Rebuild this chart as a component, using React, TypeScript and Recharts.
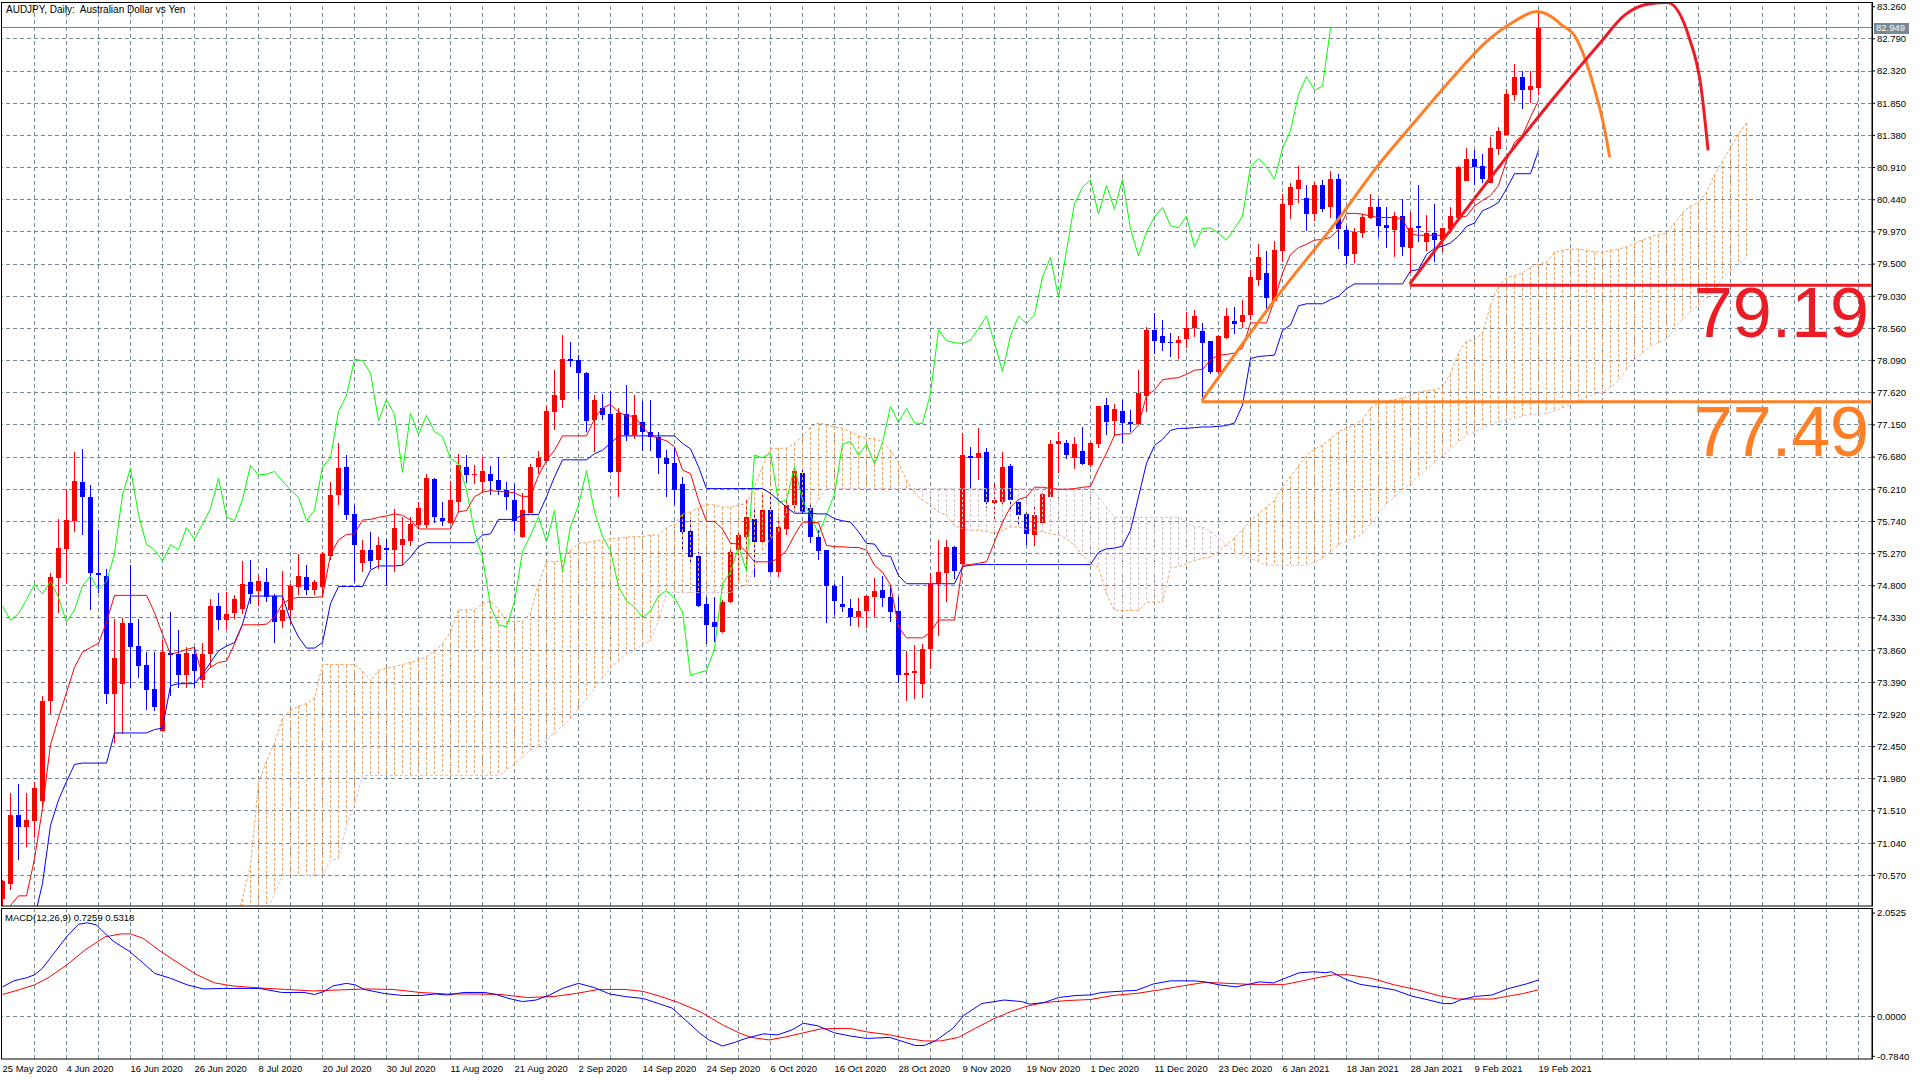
import React from 'react';
import { ComposedChart, Bar, Line, XAxis, YAxis, ReferenceLine } from 'recharts';

const FONT = "'Liberation Sans', Arial, sans-serif";
const GRID = '#778899';
const UP = '#ff0000';
const DOWN = '#0000ff';
const SANDY = '#f4a460';
const THISTLE = '#d8bfd8';
const ANN_RED = '#ed1c24';
const ANN_ORANGE = '#ff7f27';

const title = 'AUDJPY, Daily:  Australian Dollar vs Yen';
const macdTitle = 'MACD(12,26,9) 0.7259 0.5318';

const dateLabels = ['25 May 2020','4 Jun 2020','16 Jun 2020','26 Jun 2020','8 Jul 2020','20 Jul 2020','30 Jul 2020','11 Aug 2020','21 Aug 2020','2 Sep 2020','14 Sep 2020','24 Sep 2020','6 Oct 2020','16 Oct 2020','28 Oct 2020','9 Nov 2020','19 Nov 2020','1 Dec 2020','11 Dec 2020','23 Dec 2020','6 Jan 2021','18 Jan 2021','28 Jan 2021','9 Feb 2021','19 Feb 2021'];

const priceTicks = [83.26, 82.79, 82.32, 81.85, 81.38, 80.91, 80.44, 79.97, 79.5, 79.03, 78.56, 78.09, 77.62, 77.15, 76.68, 76.21, 75.74, 75.27, 74.8, 74.33, 73.86, 73.39, 72.92, 72.45, 71.98, 71.51, 71.04, 70.57];
const macdTicks = [2.0525, 0, -0.784];

const opens = [70.23,70.45,71.45,71.28,71.37,71.66,73.11,74.91,75.34,75.75,
76.31,76.10,74.98,74.95,73.22,73.37,74.26,73.92,73.64,73.29,
72.68,73.82,73.80,73.49,73.80,73.42,73.81,74.51,74.30,74.40,
74.46,74.85,74.72,74.86,74.65,74.28,74.44,74.78,74.93,74.74,
74.78,75.24,76.12,76.54,75.85,75.14,75.33,75.18,75.35,75.32,
75.39,75.45,75.69,75.69,76.36,75.79,75.72,76.03,76.54,76.42,
76.32,76.44,76.34,76.20,76.06,75.51,75.87,76.53,76.63,77.34,
77.51,78.11,78.10,77.91,77.22,77.40,77.31,76.46,77.31,77.01,
77.20,77.04,76.98,76.67,76.60,76.29,75.60,75.23,74.53,74.27,
74.12,74.56,75.32,75.52,75.78,75.44,75.90,75.00,75.63,75.98,
76.45,75.93,75.52,75.32,74.80,74.54,74.48,74.34,74.43,74.63,
74.74,74.64,74.43,73.49,73.52,73.37,73.87,74.83,74.99,75.37,
75.12,76.70,76.67,76.75,76.01,76.02,76.55,76.03,75.85,75.54,
75.72,76.10,76.87,76.88,76.67,76.77,76.56,76.87,77.44,77.21,
77.35,77.20,77.16,77.57,78.54,78.45,78.36,78.34,78.40,78.56,
78.52,78.37,77.93,78.42,78.67,78.65,78.76,79.27,79.37,78.96,
79.69,80.37,80.60,80.47,80.23,80.65,80.33,80.74,80.00,79.64,
79.96,80.17,80.33,80.07,80.00,80.20,79.73,80.05,79.82,79.95,
79.85,80.01,80.17,80.72,81.04,80.94,80.69,81.18,81.39,81.97,
82.24,82.04,82.07];
const highs = [70.50,71.78,71.91,71.78,71.93,73.19,74.98,75.77,76.21,76.75,
76.80,76.27,75.61,75.04,74.31,74.33,75.10,74.31,73.83,73.83,
74.01,74.42,74.16,73.90,73.91,73.97,74.60,74.70,74.71,74.67,
75.16,75.17,74.96,75.06,74.68,75.01,74.82,75.27,75.10,74.88,
75.30,76.31,76.89,76.71,75.98,75.47,75.59,75.51,75.48,75.92,
75.80,75.80,76.02,76.44,76.38,76.02,76.33,76.72,76.71,76.56,
76.67,76.55,76.68,76.31,76.29,76.15,76.58,76.77,77.42,77.95,
78.46,78.36,78.17,77.93,77.58,77.60,77.65,77.40,77.73,77.58,
77.50,77.51,77.04,76.78,76.82,76.39,75.77,75.30,74.63,74.63,
74.59,75.37,75.60,76.05,75.95,76.15,76.15,75.80,76.07,76.54,
76.49,75.99,75.61,75.33,74.82,74.95,74.61,74.62,74.66,74.92,
74.94,74.80,74.63,73.85,73.93,73.95,74.99,75.47,75.47,75.38,
77.03,76.83,77.10,76.82,76.30,76.76,76.58,76.04,75.86,75.99,
76.15,76.93,77.04,76.93,76.97,77.12,76.90,77.43,77.55,77.46,
77.51,77.37,77.95,78.58,78.78,78.69,78.50,78.45,78.80,78.83,
78.64,78.38,78.46,78.86,78.88,78.97,79.41,79.80,79.69,79.84,
80.52,80.69,80.93,80.65,80.70,80.73,80.86,80.81,80.06,80.02,
80.23,80.52,80.45,80.34,80.26,80.45,80.26,80.66,80.21,80.38,
80.03,80.33,80.93,81.19,81.17,81.11,81.36,81.50,82.06,82.43,
82.32,82.32,83.19];
const lows = [70.00,70.35,70.80,70.99,71.11,71.57,72.92,74.40,74.84,75.59,
75.54,74.45,74.70,73.08,72.51,72.64,73.30,73.46,72.98,72.97,
72.67,73.19,73.30,73.30,73.31,73.31,73.60,74.16,74.17,74.31,
74.39,74.54,74.50,74.56,73.97,74.18,74.24,74.67,74.67,74.67,
74.63,75.17,75.98,75.76,74.85,75.00,75.05,75.04,74.80,75.00,
75.10,75.38,75.63,75.65,75.72,75.67,75.70,75.88,76.30,76.28,
76.15,76.13,76.12,75.90,75.60,75.50,75.86,76.43,76.62,77.08,
77.40,78.00,77.53,77.05,76.76,77.22,76.45,76.10,76.92,76.94,
76.77,76.77,76.44,76.10,75.98,75.29,75.15,74.49,73.95,73.98,
74.11,74.55,74.88,75.02,74.93,75.43,74.99,74.93,75.54,75.88,
75.85,75.42,75.17,74.25,74.38,74.41,74.21,74.20,74.19,74.35,
74.49,74.27,73.38,73.12,73.14,73.16,73.59,74.07,74.56,74.90,
75.11,76.22,76.34,75.93,75.76,75.95,75.88,75.70,75.39,75.38,
75.71,76.09,76.45,76.65,76.50,76.57,76.54,76.82,77.01,76.99,
76.89,77.05,77.15,77.34,78.18,78.23,78.14,78.11,78.28,78.43,
77.51,77.90,77.90,78.41,78.48,78.56,78.69,79.18,78.83,78.95,
79.53,80.16,80.39,79.98,80.13,80.26,80.17,79.72,79.50,79.51,
79.88,80.16,79.89,79.74,79.61,79.62,79.37,79.82,79.69,79.53,
79.67,79.96,80.16,80.71,80.65,80.69,80.68,81.09,81.38,81.88,
81.76,81.85,81.97];
const closes = [70.48,71.45,71.27,71.38,71.85,73.12,74.93,75.35,75.76,76.33,
76.09,74.98,74.96,73.22,73.75,74.26,73.91,73.63,73.28,73.03,
73.83,73.79,73.50,73.82,73.55,73.80,74.50,74.30,74.39,74.60,
74.82,74.68,74.87,74.63,74.27,74.45,74.80,74.94,74.74,74.86,
75.27,76.13,76.52,75.84,75.40,75.33,75.16,75.40,75.33,75.65,
75.48,75.70,75.93,76.37,75.81,75.75,76.06,76.56,76.42,76.43,
76.47,76.33,76.20,76.09,75.75,75.90,76.54,76.67,77.35,77.58,
78.11,78.09,77.91,77.21,77.52,77.30,76.46,77.32,77.01,77.29,
77.05,76.98,76.66,76.58,76.20,75.59,75.22,74.50,74.23,74.20,
74.57,75.30,75.54,75.81,75.44,75.90,75.00,75.66,75.98,76.48,
75.88,75.52,75.31,74.79,74.58,74.49,74.34,74.43,74.65,74.73,
74.62,74.42,73.49,73.53,73.56,73.88,74.83,75.00,75.37,75.02,
76.71,76.67,76.74,76.02,76.05,76.54,76.05,75.83,75.55,75.84,
76.14,76.87,76.91,76.71,76.87,76.58,76.89,77.42,77.19,77.39,
77.18,77.17,77.61,78.54,78.38,78.35,78.34,78.39,78.56,78.74,
78.35,77.93,78.45,78.74,78.63,78.76,79.31,79.60,79.01,79.70,
80.38,80.62,80.73,80.23,80.65,80.30,80.74,80.01,79.62,79.97,
80.19,80.33,80.06,80.03,80.20,79.75,80.02,80.03,79.95,79.85,
80.02,80.20,80.92,81.04,80.92,80.74,81.19,81.45,81.98,82.24,
82.04,82.10,82.949];

const tenkan = [69.9,70.13,70.27,70.27,70.81,71.55,72.48,72.87,73.24,73.61,
73.83,73.90,73.96,74.27,74.66,74.66,74.66,74.66,74.66,74.41,
74.09,73.80,73.83,73.87,73.90,73.48,73.61,73.68,73.70,73.95,
74.23,74.23,74.23,74.24,74.34,74.54,74.61,74.63,74.63,74.63,
74.64,75.25,75.47,75.55,75.56,75.76,75.77,75.80,75.82,75.85,
75.83,75.76,75.63,75.63,75.63,75.63,75.63,75.88,75.90,76.10,
76.17,76.19,76.18,76.17,76.16,76.10,76.11,76.41,76.63,76.78,
76.99,76.99,76.99,76.99,77.24,77.40,77.45,77.34,77.28,77.28,
77.12,77.00,76.95,76.92,76.83,76.49,76.44,76.05,75.74,75.74,
75.63,75.42,75.41,75.29,75.15,75.15,75.15,75.20,75.32,75.54,
75.73,75.73,75.72,75.39,75.37,75.37,75.36,75.36,75.32,75.10,
75.00,74.81,74.20,74.04,74.04,74.04,74.12,74.30,74.30,74.30,
75.10,75.11,75.13,75.15,75.44,75.73,75.95,76.06,76.10,76.24,
76.24,76.22,76.21,76.21,76.22,76.24,76.25,76.51,76.74,77.00,
77.02,77.02,77.15,77.58,77.66,77.81,77.83,77.84,77.89,77.95,
77.96,78.10,78.17,78.18,78.20,78.27,78.64,78.64,78.64,78.98,
79.37,79.64,79.74,79.79,79.85,79.86,79.89,80.01,80.24,80.24,
80.23,80.20,80.18,80.18,80.18,80.16,79.94,79.92,79.92,79.92,
79.92,79.96,80.18,80.20,80.35,80.43,80.50,80.65,81.01,81.28,
81.38,81.65,81.89];
const kijun = [69.0,69.2,69.4,69.6,69.95,70.45,71.30,71.67,71.94,72.19,
72.21,72.21,72.21,72.21,72.65,72.65,72.65,72.65,72.65,72.70,
72.72,73.34,73.37,73.37,73.37,73.51,73.68,73.85,73.92,73.97,
74.24,74.65,74.65,74.65,74.65,74.65,74.29,74.05,73.89,73.89,
73.97,74.54,74.79,74.79,74.79,74.79,75.03,75.09,75.09,75.09,
75.10,75.22,75.37,75.43,75.43,75.43,75.43,75.43,75.43,75.43,
75.54,75.56,75.77,75.77,75.77,75.84,75.84,75.84,76.10,76.39,
76.64,76.64,76.64,76.64,76.73,76.78,76.88,76.99,76.99,76.99,
76.99,76.99,76.99,76.99,76.99,76.88,76.80,76.54,76.22,76.22,
76.22,76.22,76.22,76.22,76.22,76.22,76.15,76.05,75.95,75.86,
75.86,75.86,75.85,75.85,75.78,75.75,75.73,75.59,75.42,75.41,
75.24,75.23,74.95,74.83,74.83,74.83,74.83,74.83,74.83,74.83,
75.08,75.10,75.11,75.11,75.11,75.11,75.11,75.11,75.11,75.11,
75.11,75.11,75.11,75.11,75.11,75.11,75.11,75.29,75.34,75.35,
75.38,75.61,76.10,76.59,76.85,76.94,77.07,77.10,77.10,77.11,
77.12,77.12,77.13,77.14,77.18,77.44,78.12,78.15,78.16,78.17,
78.53,78.61,78.89,78.92,78.92,78.92,78.98,79.03,79.14,79.21,
79.21,79.21,79.21,79.21,79.21,79.21,79.40,79.42,79.64,79.73,
79.76,79.81,79.91,80.05,80.10,80.28,80.33,80.40,80.60,80.82,
80.82,80.82,81.16];

// Senkou spans, first value belongs to bar 26
const SPAN_START = 26;
const spanA = [68.8,69.2,69.5,69.9,
70.23,70.72,71.92,72.24,72.50,72.87,72.98,73.04,73.08,73.16,
73.65,73.65,73.65,73.65,73.65,73.56,73.41,73.56,73.60,73.62,
73.65,73.68,73.72,73.76,73.85,73.95,74.12,74.45,74.45,74.45,
74.54,74.58,74.45,74.28,74.28,74.28,74.40,74.83,75.15,75.15,
75.17,75.32,75.42,75.43,75.46,75.46,75.49,75.50,75.51,75.52,
75.52,75.54,75.54,75.65,75.70,75.85,75.88,75.93,75.99,75.98,
75.95,75.95,75.98,76.00,76.24,76.54,76.80,76.81,76.81,76.88,
76.98,77.12,77.18,77.15,77.12,77.10,77.05,76.99,76.95,76.95,
76.90,76.78,76.59,76.34,76.15,76.05,75.98,75.88,75.83,75.68,
75.63,75.61,75.61,75.59,75.57,75.61,75.66,75.66,75.62,75.61,
75.59,75.56,75.54,75.49,75.39,75.24,75.12,75.07,74.68,74.44,
74.44,74.44,74.44,74.56,74.56,74.56,75.07,75.08,75.12,75.17,
75.20,75.22,75.30,75.40,75.50,75.62,75.75,75.85,75.95,76.05,
76.25,76.40,76.55,76.70,76.80,76.85,76.95,77.05,77.10,77.15,
77.22,77.40,77.46,77.50,77.52,77.54,77.58,77.63,77.65,77.66,
77.70,77.90,78.20,78.37,78.40,78.49,78.90,79.18,79.30,79.33,
79.37,79.45,79.50,79.53,79.67,79.70,79.72,79.72,79.70,79.68,
79.67,79.70,79.72,79.75,79.80,79.85,79.90,79.93,79.95,80.10,
80.25,80.35,80.40,80.55,80.80,81.00,81.20,81.40,81.56];
const spanB = [68.5,68.6,68.8,69.0,
69.3,69.6,69.9,70.05,70.3,70.57,70.57,70.57,70.57,70.57,
70.57,70.79,70.81,71.30,71.60,72.03,72.03,72.03,72.03,72.03,
72.03,72.03,72.03,72.03,72.03,72.03,72.03,72.03,72.03,72.03,
72.03,72.03,72.03,72.10,72.20,72.30,72.40,72.45,72.55,72.65,
72.75,72.85,73.00,73.15,73.30,73.45,73.60,73.70,73.80,73.85,
73.95,74.00,74.29,74.70,74.70,74.70,74.70,74.70,74.70,74.70,
74.70,74.70,74.78,74.80,75.07,75.32,75.49,75.59,75.88,75.88,
75.88,75.90,76.05,76.22,76.22,76.22,76.22,76.22,76.22,76.22,
76.22,76.22,76.22,76.22,76.22,76.22,76.22,76.22,76.22,76.22,
76.22,76.22,76.22,76.22,76.22,76.22,76.22,76.22,76.22,76.22,
76.22,76.22,76.22,76.22,76.22,76.22,76.22,76.10,75.95,75.80,
75.80,75.80,75.80,75.80,75.80,75.80,75.80,75.80,75.73,75.66,
75.66,75.60,75.50,75.40,75.30,75.25,75.20,75.15,75.10,75.10,
75.10,75.10,75.10,75.10,75.15,75.20,75.30,75.40,75.45,75.50,
75.55,75.70,75.85,76.00,76.10,76.20,76.30,76.40,76.50,76.60,
76.70,76.80,76.90,77.00,77.05,77.10,77.15,77.20,77.22,77.25,
77.28,77.30,77.30,77.32,77.35,77.40,77.45,77.50,77.55,77.60,
77.62,77.70,77.80,77.95,78.10,78.20,78.30,78.35,78.40,78.55,
78.70,78.80,78.90,79.00,79.10,79.30,79.40,79.50,79.60];

// MACD readings: [bar, value]
const macdMain = [[0,0.59],[1.4,0.71],[3,0.77],[4,0.83],[5,0.96],[6.4,1.25],[8,1.58],[9.5,1.83],[10.6,1.86],[11.7,1.82],[12.8,1.65],[13.9,1.49],[15.9,1.29],[17.6,1.06],[19,0.86],[21,0.76],[23.1,0.63],[25.1,0.55],[27.6,0.56],[32.1,0.56],[34.9,0.48],[37.7,0.48],[39,0.44],[40.2,0.5],[41.3,0.61],[43,0.66],[44.1,0.63],[45.2,0.54],[47.7,0.46],[50,0.42],[52.2,0.42],[54.1,0.45],[55.5,0.43],[57.7,0.48],[60.3,0.48],[61.7,0.44],[63.3,0.36],[65,0.3],[66.7,0.33],[68.4,0.43],[70,0.56],[72,0.66],[73.9,0.58],[75.9,0.45],[77.8,0.4],[80.1,0.36],[82,0.26],[83.7,0.17],[85.4,-0.07],[87.2,-0.33],[88.3,-0.46],[90,-0.58],[91.5,-0.51],[92.9,-0.43],[95.1,-0.34],[96.9,-0.36],[98.7,-0.26],[100.1,-0.13],[101.9,-0.18],[104,-0.32],[105.9,-0.38],[108,-0.43],[110.9,-0.41],[111.9,-0.46],[114.1,-0.57],[115.2,-0.57],[116.6,-0.48],[118.8,-0.23],[120.2,0.03],[122.4,0.26],[125.2,0.33],[127.4,0.3],[128.4,0.25],[130.2,0.28],[132,0.38],[134.2,0.42],[136,0.43],[137.4,0.48],[140.3,0.51],[141.7,0.52],[143.9,0.65],[146,0.71],[148.9,0.71],[150.3,0.69],[152.1,0.63],[154.2,0.59],[155.7,0.64],[157.1,0.69],[158.9,0.67],[160.3,0.76],[162.1,0.87],[163.9,0.89],[165.4,0.87],[166.1,0.89],[167.9,0.74],[169.7,0.64],[171.8,0.59],[174,0.53],[176.1,0.41],[178.3,0.33],[180.1,0.26],[181.2,0.26],[182.2,0.33],[184,0.4],[186.2,0.43],[188.3,0.56],[190.5,0.65],[192,0.7259]];
const macdSignal = [[0,0.44],[2,0.53],[4,0.63],[5.8,0.78],[8,1.02],[10.3,1.32],[12.8,1.58],[14.8,1.64],[16,1.64],[17.6,1.55],[19.8,1.29],[22,1.06],[24.3,0.83],[26.5,0.67],[28.7,0.61],[32.1,0.57],[35.4,0.54],[38.8,0.51],[42.1,0.53],[45.5,0.55],[48.8,0.54],[52.2,0.48],[55.5,0.45],[58.9,0.45],[62.2,0.44],[65.6,0.38],[68.9,0.4],[71.7,0.46],[74.5,0.54],[77.8,0.54],[80.1,0.5],[82.3,0.4],[84.5,0.28],[87.2,0.1],[90.1,-0.17],[92.2,-0.33],[93.6,-0.41],[95.8,-0.46],[97.9,-0.4],[100.1,-0.32],[102.3,-0.24],[105.9,-0.23],[108,-0.3],[110.9,-0.36],[113.1,-0.43],[115.2,-0.48],[117.3,-0.48],[119.5,-0.41],[121.6,-0.23],[123.8,-0.05],[126,0.1],[128.1,0.21],[130.2,0.28],[133.1,0.32],[136,0.34],[138.8,0.42],[141.7,0.46],[144.6,0.53],[147.5,0.61],[150.3,0.68],[153.2,0.66],[156,0.64],[158.9,0.64],[160.3,0.64],[162.5,0.71],[164.6,0.78],[166.4,0.83],[168.2,0.83],[171.1,0.76],[174,0.63],[176.9,0.53],[179.7,0.41],[181.9,0.35],[184,0.35],[186.2,0.35],[188,0.4],[190.1,0.46],[192,0.5318]];

// hand-drawn annotations: [bar, price]
const orangeArc = [[149.9,77.5],[159.3,79.02],[167.2,80.19],[171.8,80.92],[176.4,81.56],[181.4,82.24],[185.5,82.75],[188.9,83.04],[191.8,83.19],[193.9,83.09],[194.7,83.01],[196.6,82.82],[198.9,82.1],[200.4,81.39],[200.9,81.06]];
const redArc = [[175.9,79.21],[194.7,82.04],[199.7,82.73],[202.8,83.14],[205.8,83.3],[208.1,83.32],[210.8,82.82],[212.3,82.1],[213.2,81.16]];
const currentPrice = 82.949;
const redLevel = { price: 79.19, fromBar: 175.9, text: '79.19' };
const orangeLevel = { price: 77.49, fromBar: 149.9, text: '77.49' };

// ---------- chart geometry ----------
const X_DOMAIN: [number, number] = [-0.0625, 233.6875];
const PRICE_DOMAIN: [number, number] = [70.122, 83.314];
const MACD_DOMAIN: [number, number] = [-0.8375, 2.1525];
const W = 1920;
const MAIN_H = 906;
const MAIN_MARGIN = { top: 3, right: 0, bottom: 0, left: 2 };
const MACD_TOP = 908;
const MACD_H = 172;
const MACD_MARGIN = { top: 0, right: 0, bottom: 0, left: 2 };
const Y_W = 48;

const gridBars: number[] = [];
for (let b = 4; b <= 232; b += 4) gridBars.push(b);
const dateTicks = dateLabels.map((_, k) => k * 8);

const rows = Array.from({ length: 219 }, (_, i) => {
  const has = i < opens.length;
  const si = i - SPAN_START;
  return {
    i,
    o: has ? opens[i] : null,
    h: has ? highs[i] : null,
    l: has ? lows[i] : null,
    c: has ? closes[i] : null,
    tenkan: has ? tenkan[i] : null,
    kijun: has ? kijun[i] : null,
    chikou: i + 26 < closes.length ? closes[i + 26] : null,
    a: si >= 0 && si < spanA.length ? spanA[si] : null,
    b: si >= 0 && si < spanB.length ? spanB[si] : null,
  };
});

const orangeArcData = orangeArc.map(([i, p]) => ({ i, p }));
const redArcData = redArc.map(([i, p]) => ({ i, p }));
const macdMainData = macdMain.map(([i, v]) => ({ i, v }));
const macdSignalData = macdSignal.map(([i, v]) => ({ i, v }));

const Candle = (props: any) => {
  const d = props.payload ?? props;
  if (d == null || d.h == null) return null;
  const top = Math.min(props.y, props.y + props.height);
  const hh = Math.abs(props.height);
  const k = hh / (d.h - d.l);
  const bt = top + (d.h - Math.max(d.o, d.c)) * k;
  const bb = top + (d.h - Math.min(d.o, d.c)) * k;
  const color = d.c >= d.o ? UP : DOWN;
  const cx = props.x + props.width / 2;
  return (
    <g>
      <line x1={cx} x2={cx} y1={top} y2={top + hh} stroke={color} strokeWidth={1} shapeRendering="crispEdges" />
      <rect x={props.x} y={bt} width={props.width} height={Math.max(1, bb - bt)} fill={color} shapeRendering="crispEdges" />
    </g>
  );
};

const Hatch = (props: any) => {
  const d = props.payload ?? props;
  if (d == null || d.a == null) return null;
  const top = Math.min(props.y, props.y + props.height);
  const hh = Math.abs(props.height);
  const cx = props.x + props.width / 2;
  return <line x1={cx} x2={cx} y1={top} y2={top + hh} stroke={d.a >= d.b ? SANDY : THISTLE} strokeWidth={1} strokeDasharray="3 2" shapeRendering="crispEdges" />;
};

const priceBox = (props: any) => {
  const vb = props.viewBox || {};
  const x = vb.x + vb.width + 2;
  const y = vb.y;
  return (
    <g>
      <rect x={x} y={y - 5} width={35} height={11} fill={GRID} />
      <text x={x + 2} y={y + 3.5} fontSize={9.5} fontFamily={FONT} fill="#ffffff">{currentPrice.toFixed(3)}</text>
    </g>
  );
};

const bigLabel = (text: string, color: string, drop: number, size: number) => (props: any) => {
  const vb = props.viewBox || {};
  const right = vb.x + Math.abs(vb.width || 0);
  return (
    <text x={right - 3} y={vb.y + drop} textAnchor="end" fontSize={size} fontFamily={FONT} fill={color}>{text}</text>
  );
};

const DateTick = (props: any) => {
  const { x, y, payload } = props;
  const label = dateLabels[Math.round(payload.value / 8)];
  if (!label) return null;
  return (
    <text x={x} y={y} dy={12.7} fontSize={9.5} fontFamily={FONT} fill="#000000">{label}</text>
  );
};

const hiddenY = (domain: [number, number]) => (
  <YAxis orientation="right" domain={domain} width={Y_W} allowDataOverflow tick={false} axisLine={false} tickLine={false} />
);
const hiddenX = <XAxis dataKey="i" type="number" domain={X_DOMAIN} allowDataOverflow hide />;

const layer: React.CSSProperties = { position: 'absolute', left: 0, top: 0 };

export default function App() {
  return (
    <div style={{ position: 'relative', width: W, height: 1080, background: '#ffffff', overflow: 'hidden' }}>
      <style>{`body{margin:0;background:#fff;}`}</style>

      {/* main panel: grid, axis, current price */}
      <div style={layer}>
        <ComposedChart width={W} height={MAIN_H} margin={MAIN_MARGIN} data={rows}>
          <XAxis dataKey="i" type="number" domain={X_DOMAIN} allowDataOverflow hide />
          <YAxis orientation="right" domain={PRICE_DOMAIN} ticks={priceTicks} interval={0} width={Y_W} allowDataOverflow
            axisLine={{ stroke: '#000000' }} tickLine={{ stroke: '#000000' }} tickSize={3} tickMargin={2}
            tick={{ fill: '#000000', fontSize: 9.5, fontFamily: FONT }} tickFormatter={(v: number) => v.toFixed(3)} />
          {priceTicks.slice(1).map((p) => (
            <ReferenceLine key={'h' + p} y={p} stroke={GRID} strokeDasharray="4 3" shapeRendering="crispEdges" />
          ))}
          {gridBars.map((b) => (
            <ReferenceLine key={'v' + b} x={b} stroke={GRID} strokeDasharray="4 3" shapeRendering="crispEdges" />
          ))}
          <ReferenceLine y={currentPrice} stroke={GRID} strokeWidth={1} shapeRendering="crispEdges" label={priceBox} />
        </ComposedChart>
      </div>

      {/* candles */}
      <div style={layer}>
        <ComposedChart width={W} height={MAIN_H} margin={MAIN_MARGIN} data={rows}>
          {hiddenX}
          {hiddenY(PRICE_DOMAIN)}
          <Bar dataKey={(d: any) => (d.h == null ? null : [d.l, d.h])} barSize={5} shape={<Candle />} isAnimationActive={false} />
        </ComposedChart>
      </div>

      {/* ichimoku */}
      <div style={layer}>
        <ComposedChart width={W} height={MAIN_H} margin={MAIN_MARGIN} data={rows}>
          {hiddenX}
          {hiddenY(PRICE_DOMAIN)}
          <Bar dataKey={(d: any) => (d.a == null || d.b == null ? null : [Math.min(d.a, d.b), Math.max(d.a, d.b)])} barSize={5} shape={<Hatch />} isAnimationActive={false} />
          <Line dataKey="a" stroke={SANDY} strokeWidth={1} strokeDasharray="3 2" dot={false} isAnimationActive={false} />
          <Line dataKey="b" stroke={THISTLE} strokeWidth={1} strokeDasharray="3 2" dot={false} isAnimationActive={false} />
          <Line dataKey="chikou" stroke="#00ff00" strokeWidth={1} dot={false} isAnimationActive={false} />
          <Line dataKey="kijun" stroke={DOWN} strokeWidth={1} dot={false} isAnimationActive={false} />
          <Line dataKey="tenkan" stroke={UP} strokeWidth={1} dot={false} isAnimationActive={false} />
        </ComposedChart>
      </div>

      {/* annotations */}
      <div style={layer}>
        <ComposedChart width={W} height={MAIN_H} margin={MAIN_MARGIN} data={rows}>
          {hiddenX}
          {hiddenY(PRICE_DOMAIN)}
          <ReferenceLine segment={[{ x: orangeLevel.fromBar, y: orangeLevel.price }, { x: X_DOMAIN[1], y: orangeLevel.price }]}
            stroke={ANN_ORANGE} strokeWidth={3} label={bigLabel(orangeLevel.text, ANN_ORANGE, 54, 70)} />
          <ReferenceLine segment={[{ x: redLevel.fromBar, y: redLevel.price }, { x: X_DOMAIN[1], y: redLevel.price }]}
            stroke={ANN_RED} strokeWidth={3} label={bigLabel(redLevel.text, ANN_RED, 52, 70)} />
          <Line data={orangeArcData} dataKey="p" type="monotone" stroke={ANN_ORANGE} strokeWidth={3} dot={false} isAnimationActive={false} />
          <Line data={redArcData} dataKey="p" type="monotone" stroke={ANN_RED} strokeWidth={3} dot={false} isAnimationActive={false} />
        </ComposedChart>
      </div>

      {/* MACD grid + axes */}
      <div style={{ ...layer, top: MACD_TOP }}>
        <ComposedChart width={W} height={MACD_H} margin={MACD_MARGIN} data={rows}>
          <XAxis dataKey="i" type="number" domain={X_DOMAIN} allowDataOverflow ticks={dateTicks} interval={0}
            height={21} axisLine={false} tickLine={false} tickSize={0} tickMargin={0} tick={<DateTick />} />
          <YAxis orientation="right" domain={MACD_DOMAIN} ticks={macdTicks} interval={0} width={Y_W} allowDataOverflow
            axisLine={{ stroke: '#000000' }} tickLine={{ stroke: '#000000' }} tickSize={3} tickMargin={2}
            tick={{ fill: '#000000', fontSize: 9.5, fontFamily: FONT }} tickFormatter={(v: number) => v.toFixed(4)} />
          <ReferenceLine y={0} stroke={GRID} strokeDasharray="4 3" shapeRendering="crispEdges" />
          {gridBars.map((b) => (
            <ReferenceLine key={'mv' + b} x={b} stroke={GRID} strokeDasharray="4 3" shapeRendering="crispEdges" />
          ))}
        </ComposedChart>
      </div>

      {/* MACD lines */}
      <div style={{ ...layer, top: MACD_TOP }}>
        <ComposedChart width={W} height={MACD_H} margin={MACD_MARGIN} data={rows}>
          <XAxis dataKey="i" type="number" domain={X_DOMAIN} allowDataOverflow height={21} tick={false} axisLine={false} tickLine={false} />
          {hiddenY(MACD_DOMAIN)}
          <Line data={macdSignalData} dataKey="v" stroke={UP} strokeWidth={1} dot={false} isAnimationActive={false} />
          <Line data={macdMainData} dataKey="v" stroke={DOWN} strokeWidth={1} dot={false} isAnimationActive={false} />
        </ComposedChart>
      </div>

      {/* panel frames and captions */}
      <svg width={W} height={1080} style={{ ...layer, pointerEvents: 'none' }}>
        <rect x={1.5} y={2.5} width={1871} height={903.5} fill="none" stroke="#000000" strokeWidth={1} />
        <rect x={1.5} y={908.5} width={1871} height={150.5} fill="none" stroke="#000000" strokeWidth={1} />
        <text x={6} y={13} fontSize={10} fontFamily={FONT} fill="#000000" style={{ whiteSpace: 'pre' }}>{title}</text>
        <text x={5} y={921} fontSize={9.5} fontFamily={FONT} fill="#000000">{macdTitle}</text>
      </svg>
    </div>
  );
}
